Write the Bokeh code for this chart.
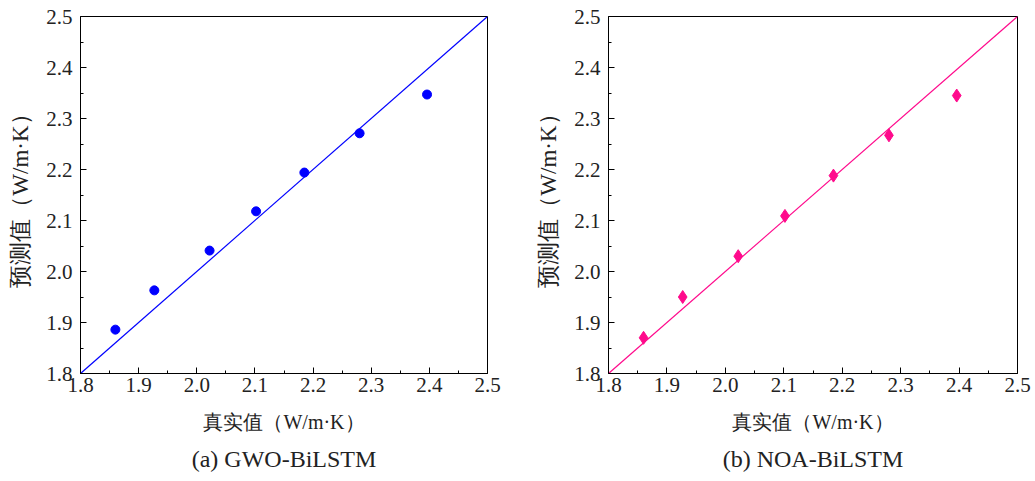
from bokeh.plotting import figure
from bokeh.layouts import row
from bokeh.models import Range1d, FixedTicker, NumeralTickFormatter, Title
from bokeh.embed import file_html
from bokeh.resources import INLINE

# ---- data ----
true_vals = [1.860, 1.927, 2.022, 2.102, 2.185, 2.280, 2.396]
gwo_pred = [1.886, 1.963, 2.041, 2.118, 2.194, 2.271, 2.347]
noa_pred = [1.870, 1.950, 2.030, 2.109, 2.188, 2.267, 2.345]
ref_line = [1.8, 2.5]
major_ticks = [1.8, 1.9, 2.0, 2.1, 2.2, 2.3, 2.4, 2.5]
minor_ticks = [1.85, 1.95, 2.05, 2.15, 2.25, 2.35, 2.45]
x_label = "真实值（W/m·K）"
y_label = "预测值（W/m·K）"
captions = ["(a) GWO-BiLSTM", "(b) NOA-BiLSTM"]

FONT = "Liberation Serif"


def make_panel(pred, color, marker, size, caption, width, bl, br):
    p = figure(width=width, height=481, output_backend="svg", toolbar_location=None,
               x_range=Range1d(1.8, 2.5), y_range=Range1d(1.8, 2.5),
               min_border_left=bl, min_border_right=br, min_border_top=16,
               min_border_bottom=108)
    p.grid.visible = False
    p.outline_line_color = "black"
    p.outline_line_width = 1
    p.background_fill_color = "white"
    p.border_fill_color = "white"

    p.line(ref_line, ref_line, line_color=color, line_width=1.2)
    p.scatter(true_vals, pred, marker=marker, size=size, fill_color=color,
              line_color=color)

    for ax in (p.xaxis[0], p.yaxis[0]):
        ax.ticker = FixedTicker(ticks=major_ticks, minor_ticks=minor_ticks)
        ax.formatter = NumeralTickFormatter(format="0.0")
        ax.major_tick_in = 6
        ax.major_tick_out = 0
        ax.minor_tick_in = 3
        ax.minor_tick_out = 0
        ax.axis_line_color = "black"
        ax.major_tick_line_color = "black"
        ax.minor_tick_line_color = "black"
        ax.major_label_text_font = FONT
        ax.major_label_text_font_size = "21px"
        ax.major_label_text_color = "#222222"
        ax.axis_label_text_font = FONT
        ax.axis_label_text_font_style = "normal"
        ax.axis_label_text_color = "#222222"
    p.xaxis.axis_label = x_label
    p.yaxis.axis_label = y_label
    p.xaxis.axis_label_text_font_size = "20px"
    p.yaxis.axis_label_text_font_size = "23px"
    p.xaxis.major_label_standoff = 4
    p.yaxis.major_label_standoff = 8
    p.xaxis.axis_label_standoff = 16
    p.yaxis.axis_label_standoff = 10

    t = Title(text=caption, align="center", text_font=FONT, text_font_size="24px",
              text_font_style="normal", text_color="#222222", standoff=17)
    p.add_layout(t, "below")
    return p


p1 = make_panel(gwo_pred, "#0000FF", "circle", 9, captions[0], 518, 80, 31)
p2 = make_panel(noa_pred, "#FF0A8C", "diamond", 13, captions[1], 517, 90, 18)

layout = row(p1, p2)
open("out.html", "w").write(file_html(layout, INLINE))
